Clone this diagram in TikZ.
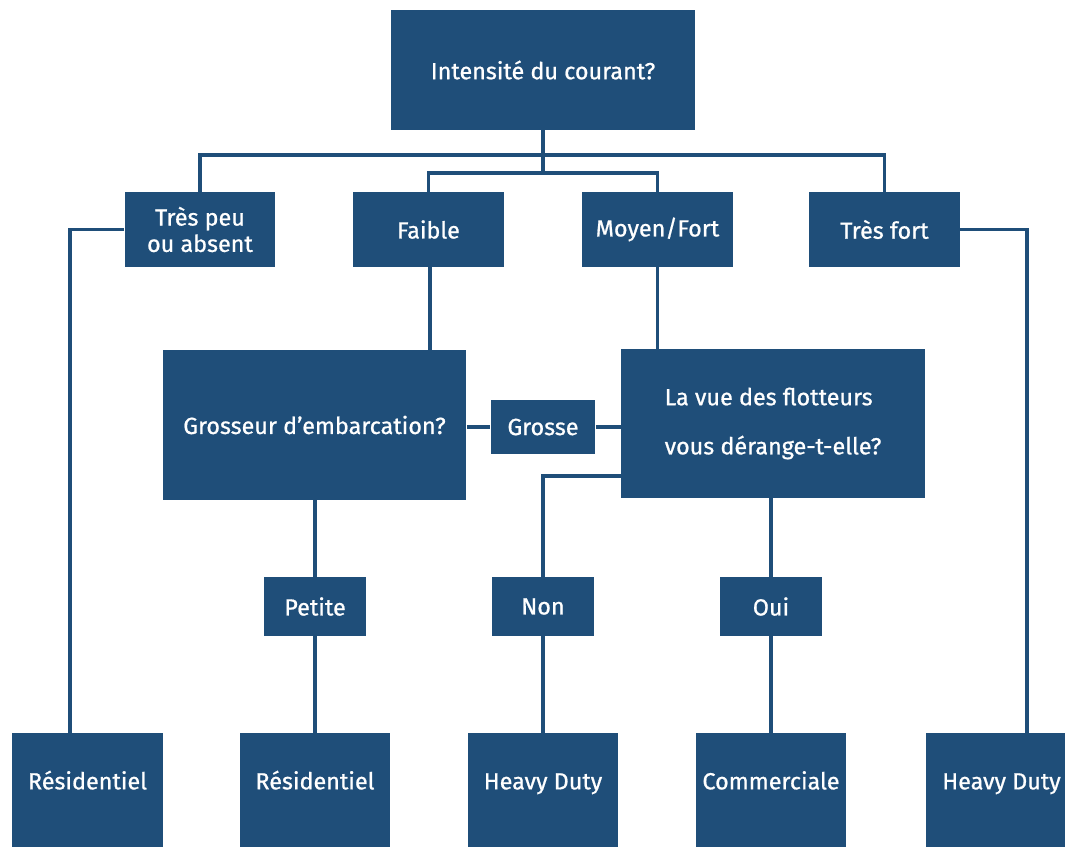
\documentclass[tikz,border=0pt]{standalone}
\usepackage{fontspec}
\setmainfont{Fira Sans}[FakeBold=0.8]
\usetikzlibrary{positioning}
\definecolor{boxblue}{HTML}{1F4E79}

\tikzset{
  box/.style={fill=boxblue, text=white, inner sep=2pt, align=center,
              font=\fontsize{13.3}{16}\selectfont},
  bigbox/.style={box, minimum width=6.08cm, minimum height=3cm},
  midbox/.style={box, minimum width=3.02cm, minimum height=1.5cm},
  smallbox/.style={box, minimum width=2.06cm, minimum height=1.18cm},
  leafbox/.style={box, anchor=north, minimum width=3.02cm, minimum height=2.6cm,
                  inner ysep=0pt, text height=0.3cm, text depth=0.66cm},
  link/.style={draw=boxblue, line width=1.8pt}
}

\begin{document}
\begin{tikzpicture}[x=0.02cm, y=-0.02cm]
  \useasboundingbox (0,0) rectangle (1065,846);

  % question boxes
  \node[bigbox, minimum height=2.4cm] (courant) at (543,70) {Intensité du courant?};
  \node[bigbox] (embarc) at (314.5,425) {Grosseur d’embarcation?};
  \node[bigbox, minimum height=2.98cm, align=left] (vue) at (773,423.5)
    {La vue des flotteurs\\[0.42cm]vous dérange-t-elle?};

  % current levels
  \node[midbox] (tpeu)  at (200,229.5)   {Très peu\\[-1pt]ou absent};
  \node[midbox] (faib)  at (428.5,229.5) {Faible};
  \node[midbox] (moyen) at (657.5,229.5) {Moyen/Fort};
  \node[midbox] (tfort) at (884.5,229.5) {Très fort};

  % answers
  \node[smallbox, minimum height=1.08cm, minimum width=2.1cm] (grosse) at (543,427) {Grosse};
  \node[smallbox] (petite) at (315,606.5) {Petite};
  \node[smallbox] (non)    at (543,606.5) {Non};
  \node[smallbox] (oui)    at (771,606.5) {Oui};

  % results
  \foreach \x/\n/\t in {87.5/res1/Résidentiel, 315/res2/Résidentiel,
                        543/hd1/Heavy Duty, 771/comm/Commerciale, 1001.5/hd2/Heavy Duty}
    \node[leafbox] (\n) at (\x,733) {\t};

  % connectors
  \coordinate (j1) at (543,155);
  \coordinate (j2) at (543,173);
  \draw[link] (courant.south) -- (j2);
  \draw[link] (tpeu.north) |- (j1) -| (tfort.north);
  \draw[link] (faib.north) |- (j2) -| (moyen.north);
  \draw[link] (tpeu.west) -| ([xshift=-0.35cm]res1.north);
  \draw[link] (tfort.east) -| ([xshift=0.51cm]hd2.north);
  \draw[link] (faib.south -| 430,0) -- (embarc.north -| 430,0);
  \draw[link] (moyen.south) -- (moyen.south |- vue.north);
  \draw[link] (embarc.east |- grosse) -- (grosse.west);
  \draw[link] (grosse.east) -- (vue.west |- grosse);
  \draw[link] ([yshift=-1.05cm]vue.west) -| (non.north);
  \draw[link] (vue.south -| oui) -- (oui.north);
  \draw[link] (embarc.south -| petite) -- (petite.north);
  \draw[link] (petite.south) -- (res2.north);
  \draw[link] (non.south) -- (hd1.north);
  \draw[link] (oui.south) -- (comm.north);
\end{tikzpicture}
\end{document}
